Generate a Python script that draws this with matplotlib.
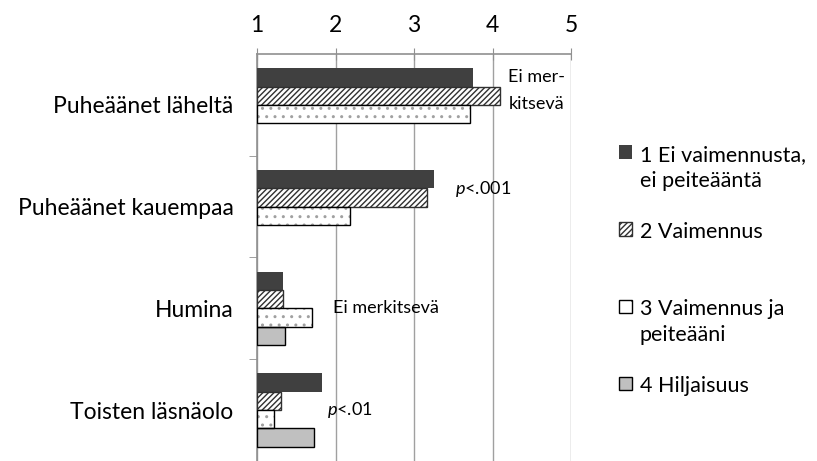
import numpy as np
from matplotlib import pyplot as plt
from matplotlib.patches import Patch, Rectangle
from matplotlib.legend_handler import HandlerPatch

categories = ['Puheäänet läheltä', 'Puheäänet kauempaa', 'Humina', 'Toisten läsnäolo']
series_names = ['1 Ei vaimennusta,\nei peiteääntä', '2 Vaimennus\n ',
                '3 Vaimennus ja\npeiteääni', '4 Hiljaisuus\n ']
ei_vaimennusta = [3.75, 3.25, 1.33, 1.83]
vaimennus = [4.09, 3.17, 1.33, 1.30]
vaimennus_peite = [3.71, 2.18, 1.70, 1.21]
hiljaisuus = [np.nan, np.nan, 1.36, 1.73]
notes = ['Ei mer-\nkitsevä', '$p$<.001', 'Ei merkitsevä', '$p$<.01']
note_x = [4.2, 3.52, 1.97, 1.89]
note_dy = [-0.14, -0.17, 0.0, 0.0]

plt.rcParams['font.family'] = ['Lato', 'DejaVu Sans']
plt.rcParams['mathtext.fontset'] = 'custom'
plt.rcParams['mathtext.it'] = 'Lato:italic'
plt.rcParams['hatch.linewidth'] = 1.0

fs = 15.5

fig = plt.figure(figsize=(8.17, 4.61), dpi=100)
ax = fig.add_axes([0.3146, 0.0, 0.3844, 0.883])

y = np.arange(len(categories))
h = 0.18
grey = '#909090'

ax.barh(y - 1.5 * h, np.array(ei_vaimennusta) - 1, h, left=1, color='#404040', zorder=3)
ax.barh(y - 0.5 * h, np.array(vaimennus) - 1, h, left=1, color='white', edgecolor='#303030',
        hatch='//////', linewidth=1, zorder=3)
ax.barh(y + 0.5 * h, np.array(vaimennus_peite) - 1, h, left=1, color='white', edgecolor='#a0a0a0',
        hatch='..', linewidth=0, zorder=3)
ax.barh(y + 0.5 * h, np.array(vaimennus_peite) - 1, h, left=1, fill=False, edgecolor='black',
        linewidth=1, zorder=4)
ax.barh(y + 1.5 * h, np.array(hiljaisuus) - 1, h, left=1, color='#c0c0c0', edgecolor='black',
        linewidth=1, zorder=3)

for i in range(len(categories)):
    ax.text(note_x[i], y[i] + note_dy[i], notes[i], fontsize=13, va='center', ha='left',
            linespacing=1.9, zorder=5)

ax.set_xlim(1, 5)
ax.set_ylim(3.5, -0.5)
ax.xaxis.tick_top()
ax.set_xticks([1, 2, 3, 4, 5])
ax.tick_params(axis='x', direction='inout', length=8, color=grey, labelsize=16.5, pad=9)
ax.grid(axis='x', color='#a0a0a0', linewidth=1, zorder=0)

ax.set_yticks(y)
ax.set_yticklabels(categories, fontsize=16.5)
ax.tick_params(axis='y', length=0, pad=17)
ax.set_yticks([0.5, 1.5, 2.5], minor=True)
ax.tick_params(axis='y', which='minor', direction='out', length=6, color=grey)

for s in ['right', 'bottom']:
    ax.spines[s].set_visible(False)
ax.spines['top'].set_color(grey)
ax.spines['left'].set_color(grey)
ax.spines['top'].set_linewidth(1.2)
ax.spines['left'].set_linewidth(1.2)


# legend square next to the first line of each label
def top_square(legend, orig_handle, xdescent, ydescent, width, height, fontsize):
    return Rectangle((-xdescent, -ydescent + 0.75 * fontsize), width, height)


handles = [Patch(facecolor='#404040'),
           Patch(facecolor='white', edgecolor='#303030', hatch='//////'),
           Patch(facecolor='white', edgecolor='black', hatch='.'),
           Patch(facecolor='#c0c0c0', edgecolor='black')]
leg = fig.legend(handles, series_names, loc='center left', bbox_to_anchor=(0.758, 0.385),
                 frameon=False, fontsize=fs, handlelength=0.6, handleheight=0.6,
                 handletextpad=0.35, labelspacing=1.45, borderpad=0, borderaxespad=0,
                 handler_map={Patch: HandlerPatch(patch_func=top_square)})
for t in leg.get_texts():
    t.set_linespacing(1.37)

plt.savefig('out.png', dpi=100)
